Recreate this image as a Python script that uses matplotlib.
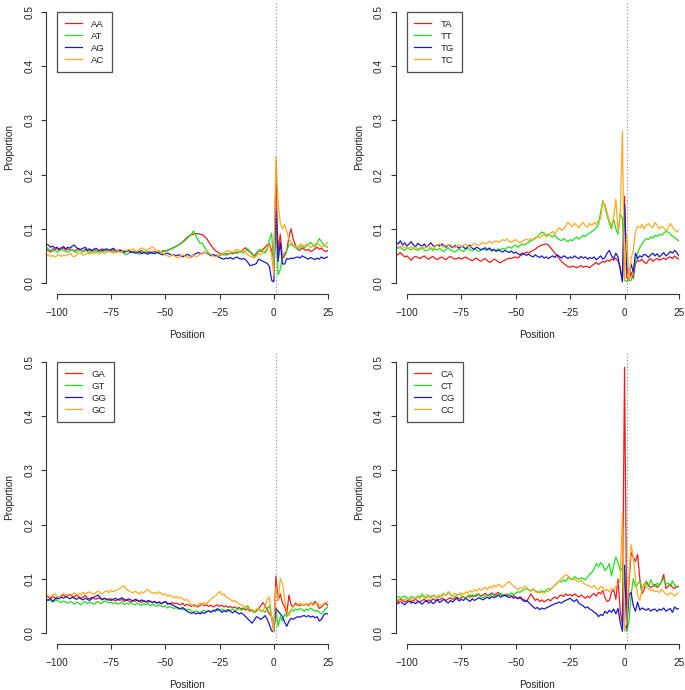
import matplotlib
matplotlib.use("Agg")
import matplotlib.pyplot as plt

# Positions relative to the site (x axis)
positions = list(range(-105, 26))

# Proportions in per-mille (value / 1000), one value per position
# Panel 1: A-
AA = [62,60,57,63,61,64,60,62,65,61, 63,60,62,59,61,63,60,58,62,60, 61,59,62,60,58,61,63,60,59,61,
      60,62,59,61,58,60,57,59,61,58, 57,59,56,58,60,57,55,58,56,57, 58,56,59,57,60,58,61,62,64,66,
      68,70,73,76,80,84,87,89,90,91, 91,90,89,86,82,76,70,64,60,57, 55,53,52,54,53,55,54,56,55,57,
      58,62,65,60,57,53,50,55,60,58, 62,66,70,72,60,45,190,60,90,45, 50,60,85,100,80,70,62,60,65,62,
      60,62,58,60,63,66,62,64,60,58, 60]
AT = [66,63,60,58,61,57,59,62,60,58, 57,60,62,58,56,59,61,57,60,58, 56,59,57,60,58,55,57,59,61,58,
      57,59,56,58,60,57,54,52,55,57, 56,58,55,53,56,58,57,55,54,56, 55,57,56,58,57,60,59,62,63,65,
      67,70,72,75,78,82,86,90,96,88, 80,73,74,66,60,55,53,52,50,52, 50,52,54,51,53,55,57,55,58,56,
      58,55,60,63,58,55,48,52,60,62, 58,55,62,80,92,30,110,15,25,50, 55,60,70,72,68,65,62,66,70,64,
      68,72,75,70,66,74,82,76,70,68, 65]
AG = [72,70,66,68,64,66,62,65,67,63, 66,64,68,70,65,63,62,64,66,61, 63,60,62,64,61,59,60,62,63,60,
      62,64,60,58,61,59,57,58,60,56, 57,55,56,58,54,56,55,53,57,55, 54,56,55,53,52,54,55,53,51,52,
      50,52,51,48,50,53,51,48,52,54, 56,55,54,57,55,53,50,52,51,49, 47,45,44,46,45,47,44,46,48,45,
      44,45,43,38,32,33,34,36,44,42, 40,38,36,30,5,2,135,40,75,35, 35,45,44,46,45,47,48,46,50,48,
      46,44,47,45,43,46,44,48,45,47, 48]
AC = [50,52,49,51,48,50,53,49,51,50, 52,55,50,48,52,54,56,51,53,55, 53,56,54,57,55,58,56,54,57,59,
      57,55,58,60,56,58,61,59,62,60, 63,60,58,62,65,63,60,62,64,67, 63,58,60,56,54,52,50,48,52,50,
      48,46,50,52,49,48,46,50,52,48, 50,53,55,57,56,54,52,50,48,50, 52,54,56,58,60,58,56,60,62,58,
      60,58,56,52,50,48,46,50,55,52, 56,60,65,70,50,15,233,150,110,100, 108,95,80,75,70,68,65,72,70,68,
      72,70,65,68,72,74,70,66,68,72, 75]

# Panel 2: T-
TA = [50,53,56,52,48,50,46,42,47,49, 47,45,48,50,46,44,47,49,45,43, 46,48,45,43,47,49,46,44,45,47,
      44,46,48,45,43,41,44,46,42,40, 43,45,41,38,40,44,42,39,37,40, 42,44,46,45,47,48,46,50,52,55,
      57,55,58,60,62,66,68,70,71,72, 70,65,60,55,50,45,40,36,33,30, 29,31,30,28,30,32,29,31,30,28,
      32,35,38,34,37,40,38,42,40,44, 42,46,40,30,5,160,10,5,20,8, 35,42,40,44,38,36,42,45,40,43,
      45,42,44,46,43,47,48,45,50,46, 44]
TT = [66,64,67,62,60,65,63,61,64,62, 60,63,65,61,59,62,64,60,63,61, 64,60,58,62,65,61,59,57,60,62,
      60,58,62,64,61,59,63,60,58,61, 63,60,62,65,58,62,60,63,61,64, 62,65,67,64,68,70,66,69,72,70,
      73,75,78,80,82,86,90,94,92,88, 90,87,85,88,83,80,78,82,79,76, 80,78,82,85,81,84,88,86,90,92,
      95,98,102,108,130,152,140,125,110,100, 118,100,90,128,120,5,3,4,5,20, 40,55,65,72,78,82,80,85,83,88,
      86,90,88,92,95,94,90,86,84,80, 78]
TG = [75,72,78,70,74,68,72,76,70,67, 73,70,68,72,66,70,74,69,67,71, 68,72,69,66,70,68,65,69,67,64,
      68,66,63,67,70,64,62,66,64,61, 63,65,61,64,60,62,58,61,59,57, 60,58,56,59,55,57,54,52,55,53,
      51,53,50,48,52,49,47,50,46,48, 45,48,50,47,52,49,46,50,48,45, 48,46,50,47,45,49,46,48,44,47,
      45,48,43,46,50,44,47,55,60,50, 45,55,48,25,2,145,30,12,35,20, 55,45,50,48,53,51,47,52,55,50,
      54,48,52,56,50,53,58,55,60,56, 50]
TC = [65,67,64,68,66,63,65,67,64,66, 63,65,67,64,66,68,65,63,67,70, 72,68,66,70,69,71,67,65,68,70,
      67,70,72,68,65,70,73,71,69,72, 75,72,74,77,73,76,78,75,77,80, 78,81,77,75,78,80,76,74,77,79,
      81,78,82,80,84,86,83,87,90,85, 88,92,95,90,98,102,97,100,105,112, 108,104,110,106,102,108,112,105,103,110,
      106,112,108,115,118,150,145,130,115,105, 120,155,95,125,280,5,88,5,45,60, 95,105,102,108,100,106,110,104,102,112,
      106,100,104,102,96,100,110,103,98,94, 97]

# Panel 3: G-
GA = [68,66,64,67,65,63,66,68,70,67, 69,71,68,66,70,67,64,66,69,65, 63,66,64,62,65,63,61,64,62,60,
      63,61,59,62,60,62,58,61,59,57, 60,58,61,59,56,60,58,57,59,56, 58,55,57,54,56,58,55,53,56,54,
      55,53,52,55,50,53,51,49,52,50, 48,51,53,50,52,49,51,48,50,52, 49,51,48,50,47,49,46,48,45,47,
      44,46,42,45,40,43,38,40,45,50, 56,50,42,35,30,5,105,60,72,55, 48,35,70,52,48,55,52,50,53,51,
      54,50,56,52,58,54,45,48,52,55, 50]
GT = [58,62,60,57,59,61,58,56,59,57, 55,58,56,53,57,55,52,56,58,54, 57,55,53,56,58,54,56,59,57,55,
      57,54,56,53,55,57,52,55,53,56, 54,52,55,53,51,54,52,55,50,53, 51,49,52,50,48,50,46,49,47,45,
      47,44,46,43,45,42,44,40,38,41, 39,37,40,42,39,41,38,40,43,41, 42,44,41,43,40,42,44,41,43,45,
      42,44,46,50,44,40,38,42,45,40, 42,38,45,50,30,3,45,12,30,22, 35,30,38,42,40,44,42,45,43,40,
      44,42,46,43,40,42,38,35,40,45, 48]
GG = [62,60,64,58,62,65,63,66,64,67, 65,63,66,64,62,65,63,61,64,62, 60,63,66,68,70,65,62,64,61,63,
      60,62,64,61,63,65,62,60,63,61, 59,62,60,58,61,59,57,60,58,56, 58,55,57,54,56,58,53,55,52,50,
      48,46,44,47,43,40,38,36,38,35, 37,35,38,36,39,41,38,42,40,45, 42,38,41,39,43,40,37,40,38,35,
      37,34,30,26,22,18,24,30,28,25, 28,32,25,15,4,2,45,40,35,30, 20,12,22,27,25,28,30,29,31,32,
      30,32,29,31,28,30,22,25,33,36, 35]
GC = [70,68,66,70,72,68,65,70,73,69, 71,68,72,74,70,73,71,75,72,74, 76,73,71,75,77,74,72,76,78,74,
      79,76,78,80,82,85,87,80,78,76, 74,77,75,72,76,74,78,80,76,73, 75,72,76,73,70,72,68,70,67,65,
      67,64,66,63,60,62,57,52,50,48, 52,55,53,56,54,58,62,66,68,72, 77,70,72,66,64,62,58,60,56,54,
      52,50,48,46,44,42,40,44,46,42, 40,50,62,66,30,2,85,60,100,92, 62,40,32,42,48,52,50,55,53,51,
      54,52,56,50,53,55,52,50,54,56, 58]

# Panel 4: C-
CA = [60,58,62,60,57,59,61,58,60,62, 59,57,60,62,58,61,59,63,60,62, 61,64,62,60,63,65,62,64,66,63,
      65,67,64,68,66,70,67,69,72,68, 70,73,69,71,74,70,72,75,71,69, 70,68,71,67,69,66,64,67,63,61,
      58,65,72,66,60,63,58,61,57,60, 62,59,64,66,63,68,70,67,72,69, 71,68,72,69,66,70,67,64,68,65,
      70,73,68,75,72,78,65,58,60,75, 80,62,100,40,15,490,8,90,148,140, 132,145,100,72,80,95,88,84,86,90,
      84,88,95,108,82,86,90,84,82,86, 86]
CT = [65,67,64,66,68,65,63,67,66,64, 68,66,72,67,64,69,66,70,68,65, 67,70,73,69,76,71,68,66,70,72,
      69,67,64,68,71,66,69,72,70,67, 65,68,70,67,72,69,66,70,73,71, 68,72,70,74,71,73,76,75,78,80,
      82,79,77,80,78,76,74,78,76,79, 82,80,84,88,92,96,94,98,95,102, 100,98,104,101,99,102,100,98,103,108,
      112,118,128,122,130,125,115,120,128,105, 125,140,130,115,120,5,3,20,70,100, 85,90,95,82,88,92,86,98,90,85,
      92,88,95,100,90,92,86,96,88,84, 85]
CG = [57,54,58,55,52,56,59,55,57,54, 58,56,53,57,60,55,58,54,57,61, 56,59,62,58,55,60,57,61,64,59,
      62,60,64,61,58,63,60,62,65,63, 61,64,66,63,67,65,68,70,66,68, 70,67,65,68,64,66,63,65,61,58,
      60,56,52,48,45,47,43,46,44,46, 48,50,52,54,55,57,55,58,60,62, 64,60,58,62,55,52,50,46,48,44,
      42,38,36,30,34,32,40,36,42,38, 44,35,45,20,3,125,8,70,75,50, 40,57,42,46,44,42,45,40,43,44,
      40,44,42,46,40,43,45,38,48,44, 45]
CC = [60,62,58,63,61,64,60,62,65,63, 66,63,68,65,70,67,64,69,66,68, 70,67,72,69,74,71,68,73,70,72,
      74,71,76,73,78,75,80,77,82,79, 81,84,80,86,83,88,85,90,87,84, 88,92,95,90,86,83,80,84,82,86,
      84,80,78,82,76,74,78,75,73,77, 76,80,84,88,92,96,100,104,108,105, 102,98,100,96,94,97,92,90,88,86,
      84,88,82,80,86,84,78,80,76,82, 80,85,90,95,220,5,20,100,163,140, 100,70,60,80,92,85,82,78,80,76,
      78,74,80,76,72,70,74,72,68,72, 74]

panels = [
    (["AA", "AT", "AG", "AC"], [AA, AT, AG, AC]),
    (["TA", "TT", "TG", "TC"], [TA, TT, TG, TC]),
    (["GA", "GT", "GG", "GC"], [GA, GT, GG, GC]),
    (["CA", "CT", "CG", "CC"], [CA, CT, CG, CC]),
]
colors = ["#ee1c1c", "#22dd22", "#1a1acc", "#ffaa22"]
xticks = [-100, -75, -50, -25, 0, 25]
yticks = [0.0, 0.1, 0.2, 0.3, 0.4, 0.5]
site_line = 1

for _, ser in panels:
    for s in ser:
        assert len(s) == len(positions), len(s)

plt.rcParams['font.family'] = ['Liberation Sans', 'DejaVu Sans']
fig = plt.figure(figsize=(6.85, 6.9), dpi=100)

rects = [
    (0.0674, 0.5742, 0.4114, 0.4241),
    (0.5781, 0.5742, 0.4131, 0.4241),
    (0.0674, 0.0670, 0.4114, 0.4241),
    (0.5781, 0.0670, 0.4131, 0.4241),
]
txtcol = "#222222"
for rect, (labels, series) in zip(rects, panels):
    ax = fig.add_axes(rect)
    for lab, s, c in zip(labels, series, colors):
        ax.plot(positions, [v / 1000 for v in s], color=c, lw=0.9, label=lab)
    ax.axvline(site_line, color="#888888", lw=0.8, ls=(0, (1, 2)))
    ax.set_xlim(-105, 25)
    ax.set_ylim(-0.02, 0.52)
    for sp in ["top", "right"]:
        ax.spines[sp].set_visible(False)
    ax.spines["left"].set_bounds(0, 0.5)
    ax.spines["bottom"].set_bounds(-100, 25)
    for sp in ["left", "bottom"]:
        ax.spines[sp].set_color("#333333")
        ax.spines[sp].set_linewidth(0.8)
    ax.set_xticks(xticks)
    ax.set_xticklabels([str(t).replace("-", "\u2212") for t in xticks])
    ax.set_yticks(yticks)
    ax.set_yticklabels([f"{t:.1f}" for t in yticks], rotation=90, va="center")
    ax.tick_params(axis="both", length=3.6, width=0.8, color="#333333",
                   labelsize=7.2, labelcolor=txtcol)
    ax.tick_params(axis="x", pad=6.5)
    ax.tick_params(axis="y", pad=5)
    ax.set_xlabel("Position", fontsize=7.2, color=txtcol, labelpad=8.5)
    ax.set_ylabel("Proportion", fontsize=7.2, color=txtcol, labelpad=7.5)
    leg = ax.legend(loc="upper left", bbox_to_anchor=(-100, 0.5),
                    bbox_transform=ax.transData, fontsize=6.8, frameon=True,
                    fancybox=False, edgecolor="#222222", borderaxespad=0,
                    handlelength=1.8, handletextpad=1.0, labelspacing=0.32,
                    borderpad=0.8)
    leg.get_frame().set_linewidth(0.9)
    for t in leg.get_texts():
        t.set_color(txtcol)

fig.savefig("out.png", dpi=100)
